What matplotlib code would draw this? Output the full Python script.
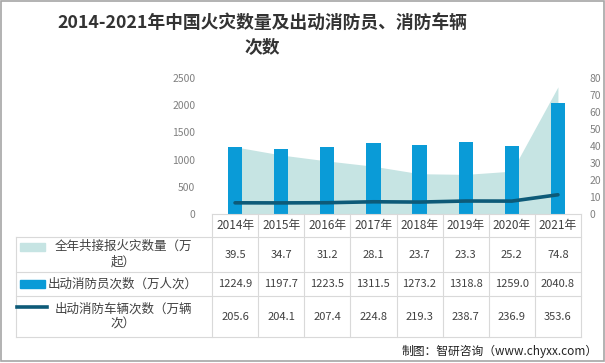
import matplotlib
matplotlib.use("Agg")
import matplotlib.pyplot as plt
from matplotlib.patches import Rectangle
from matplotlib.lines import Line2D
import numpy as np

plt.rcParams['font.family'] = ['Noto Sans CJK SC', 'DejaVu Sans']

years = ["2014年", "2015年", "2016年", "2017年", "2018年", "2019年", "2020年", "2021年"]
fires = [39.5, 34.7, 31.2, 28.1, 23.7, 23.3, 25.2, 74.8]          # 万起
firemen = [1224.9, 1197.7, 1223.5, 1311.5, 1273.2, 1318.8, 1259.0, 2040.8]  # 万人次
vehicles = [205.6, 204.1, 207.4, 224.8, 219.3, 238.7, 236.9, 353.6]  # 万辆次
series_names = ["全年共接报火灾数量（万\n起）", "出动消防员次数（万人次）", "出动消防车辆次数（万辆\n次）"]

c_area = "#c6e4e3"
c_bar = "#0a9bd7"
c_line = "#0d5a78"
c_grid = "#d9d9d9"
c_text = "#404040"

W, H = 605, 363
fig = plt.figure(figsize=(W / 100, H / 100), dpi=100)

def fx(x):
    return x / W

def fy(y):
    return 1 - y / H

# plot area in pixel coords
x0, x1 = 212, 581
ytop, ybot = 78, 214
ax2 = fig.add_axes([fx(x0), fy(ybot), fx(x1 - x0), (ybot - ytop) / H])
ax = ax2.twinx()
# bars/line axis on top, left side
ax.yaxis.tick_left()
ax2.yaxis.tick_right()
ax.set_zorder(ax2.get_zorder() + 1)
ax.patch.set_visible(False)

x = np.arange(len(years))
ax2.fill_between(x, fires, 0, color=c_area, lw=0)
ax2.set_ylim(0, 80)
ax2.set_yticks(range(0, 81, 10))

ax.bar(x, firemen, width=0.31, color=c_bar, zorder=2)
ax.plot(x, vehicles, color=c_line, lw=2.6, zorder=3, solid_capstyle='round')
ax.set_ylim(0, 2500)
ax.set_yticks(range(0, 2501, 500))

for a in (ax, ax2):
    a.set_xlim(-0.5, len(years) - 0.5)
    a.set_xticks([])
    for s in a.spines.values():
        s.set_visible(False)
    a.tick_params(axis='y', length=0, labelsize=7.5, labelcolor="#808080")
ax.tick_params(axis='y', pad=12)
ax2.tick_params(axis='y', pad=6)

# title
fig.text(fx(262), fy(35), "2014-2021年中国火灾数量及出动消防员、消防车辆\n次数",
         ha='center', va='center', fontsize=12.8, fontweight='bold', color="#333333",
         linespacing=1.5)

# data table
col_w = (x1 - x0) / len(years)
rows = [(214, 237), (237, 272), (272, 296), (296, 337)]
lines_kw = dict(color=c_grid, lw=0.8, transform=fig.transFigure)

# horizontal lines
fig.add_artist(Line2D([fx(x0), fx(x1)], [fy(214), fy(214)], **lines_kw))
for yy in (237, 272, 296, 337):
    fig.add_artist(Line2D([fx(16), fx(x1)], [fy(yy), fy(yy)], **lines_kw))
# vertical lines
for k in range(len(years) + 1):
    xx = x0 + k * col_w
    fig.add_artist(Line2D([fx(xx), fx(xx)], [fy(214), fy(337)], **lines_kw))
fig.add_artist(Line2D([fx(16), fx(16)], [fy(237), fy(337)], **lines_kw))

# category labels and values
table_vals = [fires, firemen, vehicles]
for k, yr in enumerate(years):
    cx = x0 + (k + 0.5) * col_w
    fig.text(fx(cx), fy(226), yr, ha='center', va='center', fontsize=8.5, color=c_text)
    for r, vals in enumerate(table_vals):
        cy = (rows[r + 1][0] + rows[r + 1][1]) / 2
        fig.text(fx(cx), fy(cy), f"{vals[k]:.1f}", ha='center', va='center',
                 fontsize=8, color=c_text)

# legend keys and names
fig.add_artist(Rectangle((fx(20), fy(251)), fx(25), 8 / H, color=c_area,
                         transform=fig.transFigure))
fig.add_artist(Rectangle((fx(20), fy(288)), fx(25), 8 / H, color=c_bar,
                         transform=fig.transFigure))
fig.add_artist(Line2D([fx(17), fx(47)], [fy(307), fy(307)], color=c_line, lw=2.6,
                      transform=fig.transFigure))
for r, name in enumerate(series_names):
    cy = (rows[r + 1][0] + rows[r + 1][1]) / 2
    fig.text(fx(123), fy(cy), name, ha='center', va='center', fontsize=9,
             color=c_text, multialignment='center', linespacing=1.25)

# source
fig.text(fx(598), fy(351), "制图：智研咨询（www.chyxx.com）", ha='right', va='center',
         fontsize=8.5, color="#222222")

# outer frame
fig.add_artist(Rectangle((0.5 / W, 2.5 / H), 1 - 1.5 / W, 1 - 3.5 / H, fill=False,
                         edgecolor="#a6a6a6", lw=1.2, transform=fig.transFigure))

fig.savefig("out.png", dpi=100)
